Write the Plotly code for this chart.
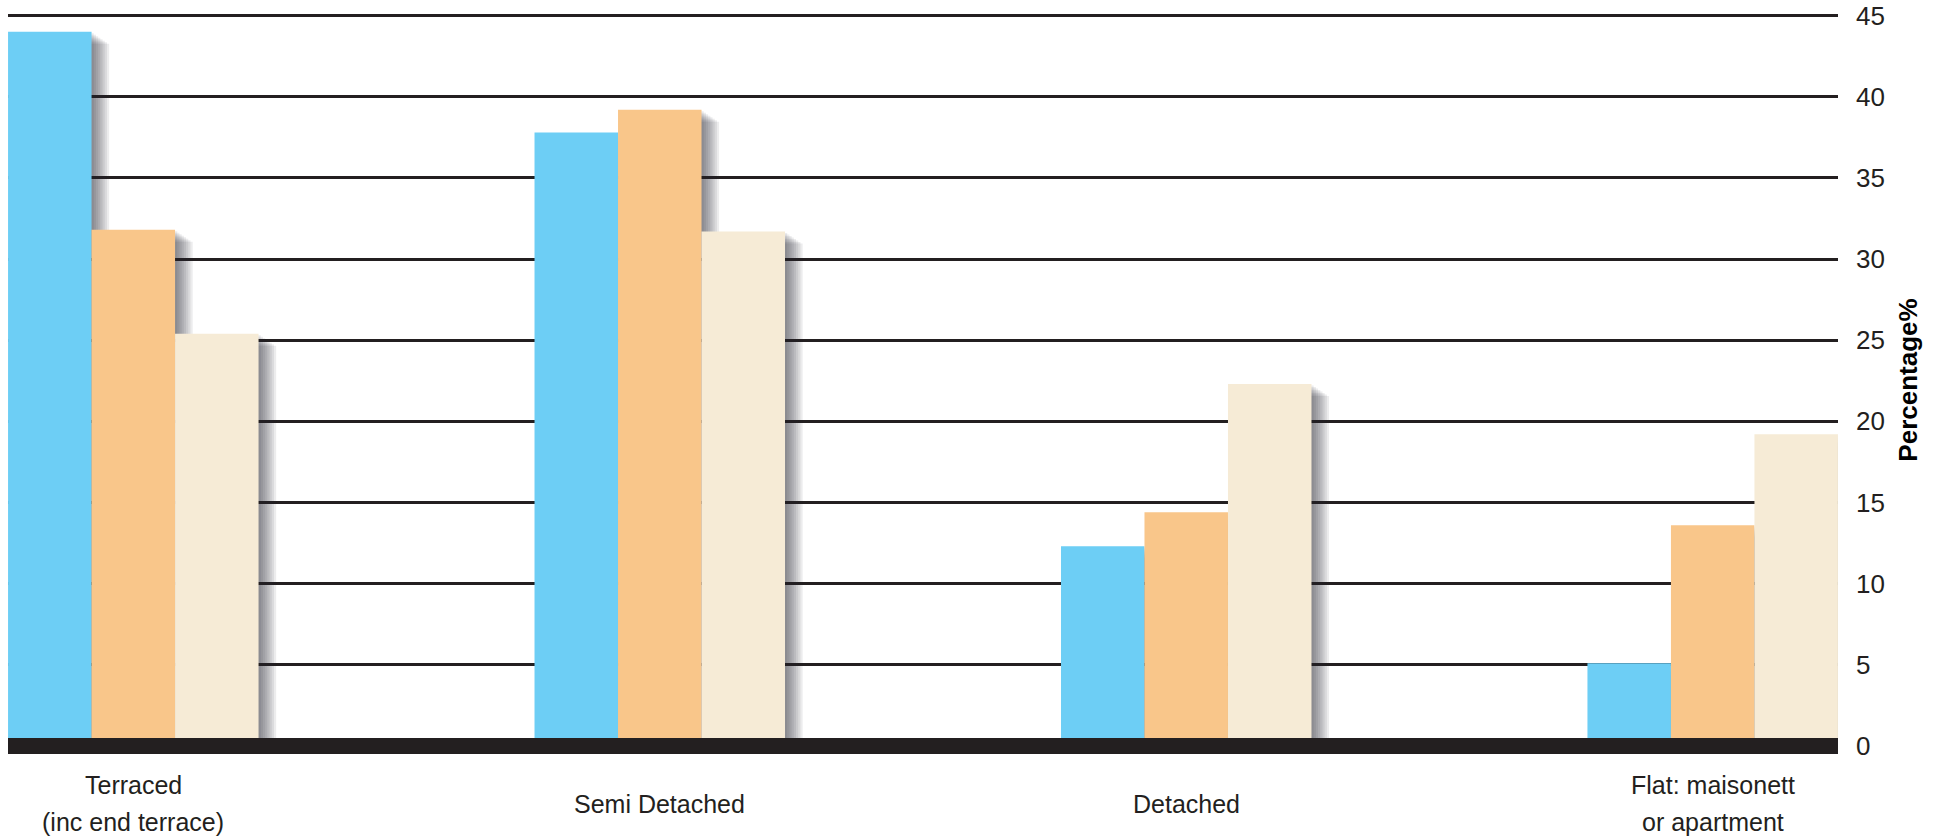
import plotly.graph_objects as go

categories = ["Terraced<br>(inc end terrace)", "Semi Detached", "Detached", "Flat: maisonett<br>or apartment"]
series_names = ["Series A", "Series B", "Series C"]
series_a = [44.0, 37.8, 12.3, 5.1]
series_b = [31.8, 39.2, 14.4, 13.6]
series_c = [25.4, 31.7, 22.3, 19.2]
y_ticks = [0, 5, 10, 15, 20, 25, 30, 35, 40, 45]
y_title = "Percentage%"

colors = ["#6dcef5", "#f9c68a", "#f6ebd6"]
ink = "#231f20"

W, H = 1946, 838
ml, mr, mt, mb = 8, 108, 14, 92
y_lo, y_hi = 0, 45.1
x_lo, x_hi = -0.238, 3.238
px_per_cat = (W - ml - mr) / (x_hi - x_lo)
px_per_unit = (H - mt - mb) / (y_hi - y_lo)
bw = 0.1586
offsets = [-0.2379 + i * bw for i in range(3)]
all_series = [series_a, series_b, series_c]

fig = go.Figure()

# drop shadows (drawn first, behind bars)
for k in range(1, 9):
    dx = 2.2 * k / px_per_cat
    dy = 1.5 * k / px_per_unit
    for i, vals in enumerate(all_series):
        fig.add_trace(go.Bar(
            x=categories, y=[v - dy + 1.5 for v in vals], base=-1.5,
            width=bw, offset=offsets[i] + dx,
            marker=dict(color="rgba(40,40,48,0.085)", line=dict(width=0)),
            showlegend=False, hoverinfo="skip"))

for i, vals in enumerate(all_series):
    fig.add_trace(go.Bar(
        x=categories, y=vals, name=series_names[i],
        width=bw, offset=offsets[i],
        marker=dict(color=colors[i], line=dict(width=0)),
        showlegend=False))

# category labels (one annotation per line, centred on the category)
line_gap = 37
center_y = 803.5 - (H - mb)
for c in categories:
    lines = c.split("<br>")
    n = len(lines)
    for j, ln in enumerate(lines):
        yc = center_y + (j - (n - 1) / 2) * line_gap
        fig.add_annotation(x=c, xref="x", y=0, yref="paper", text=ln,
                           showarrow=False, yanchor="middle", xanchor="center",
                           yshift=-yc,
                           font=dict(family="Liberation Sans, Arial, sans-serif", size=25, color=ink))

# thick baseline band (paper refs so it is not clipped at the plot edge)
fig.add_shape(type="line", xref="paper", x0=0, x1=1, yref="paper", y0=0, y1=0,
              line=dict(color=ink, width=16), layer="above")

fig.update_layout(
    width=W, height=H,
    margin=dict(l=ml, r=mr, t=mt, b=mb, autoexpand=False),
    paper_bgcolor="white", plot_bgcolor="white",
    barmode="overlay",
    showlegend=False,
    xaxis=dict(type="category", range=[x_lo, x_hi], showticklabels=False,
               showgrid=False, zeroline=False, showline=False, ticks=""),
    yaxis=dict(side="right", range=[y_lo, y_hi], tickvals=y_ticks,
               showgrid=True, gridcolor=ink, gridwidth=2.5, zeroline=False,
               showline=False, ticks="", ticklabelstandoff=17,
               tickfont=dict(family="Liberation Sans, Arial, sans-serif", size=26, color=ink),
               title=dict(text=y_title, standoff=14,
                          font=dict(family="Liberation Sans, Arial, sans-serif", size=26,
                                    color="#000000", weight="bold")),
               automargin=False),
)

fig.write_html("out.html")
